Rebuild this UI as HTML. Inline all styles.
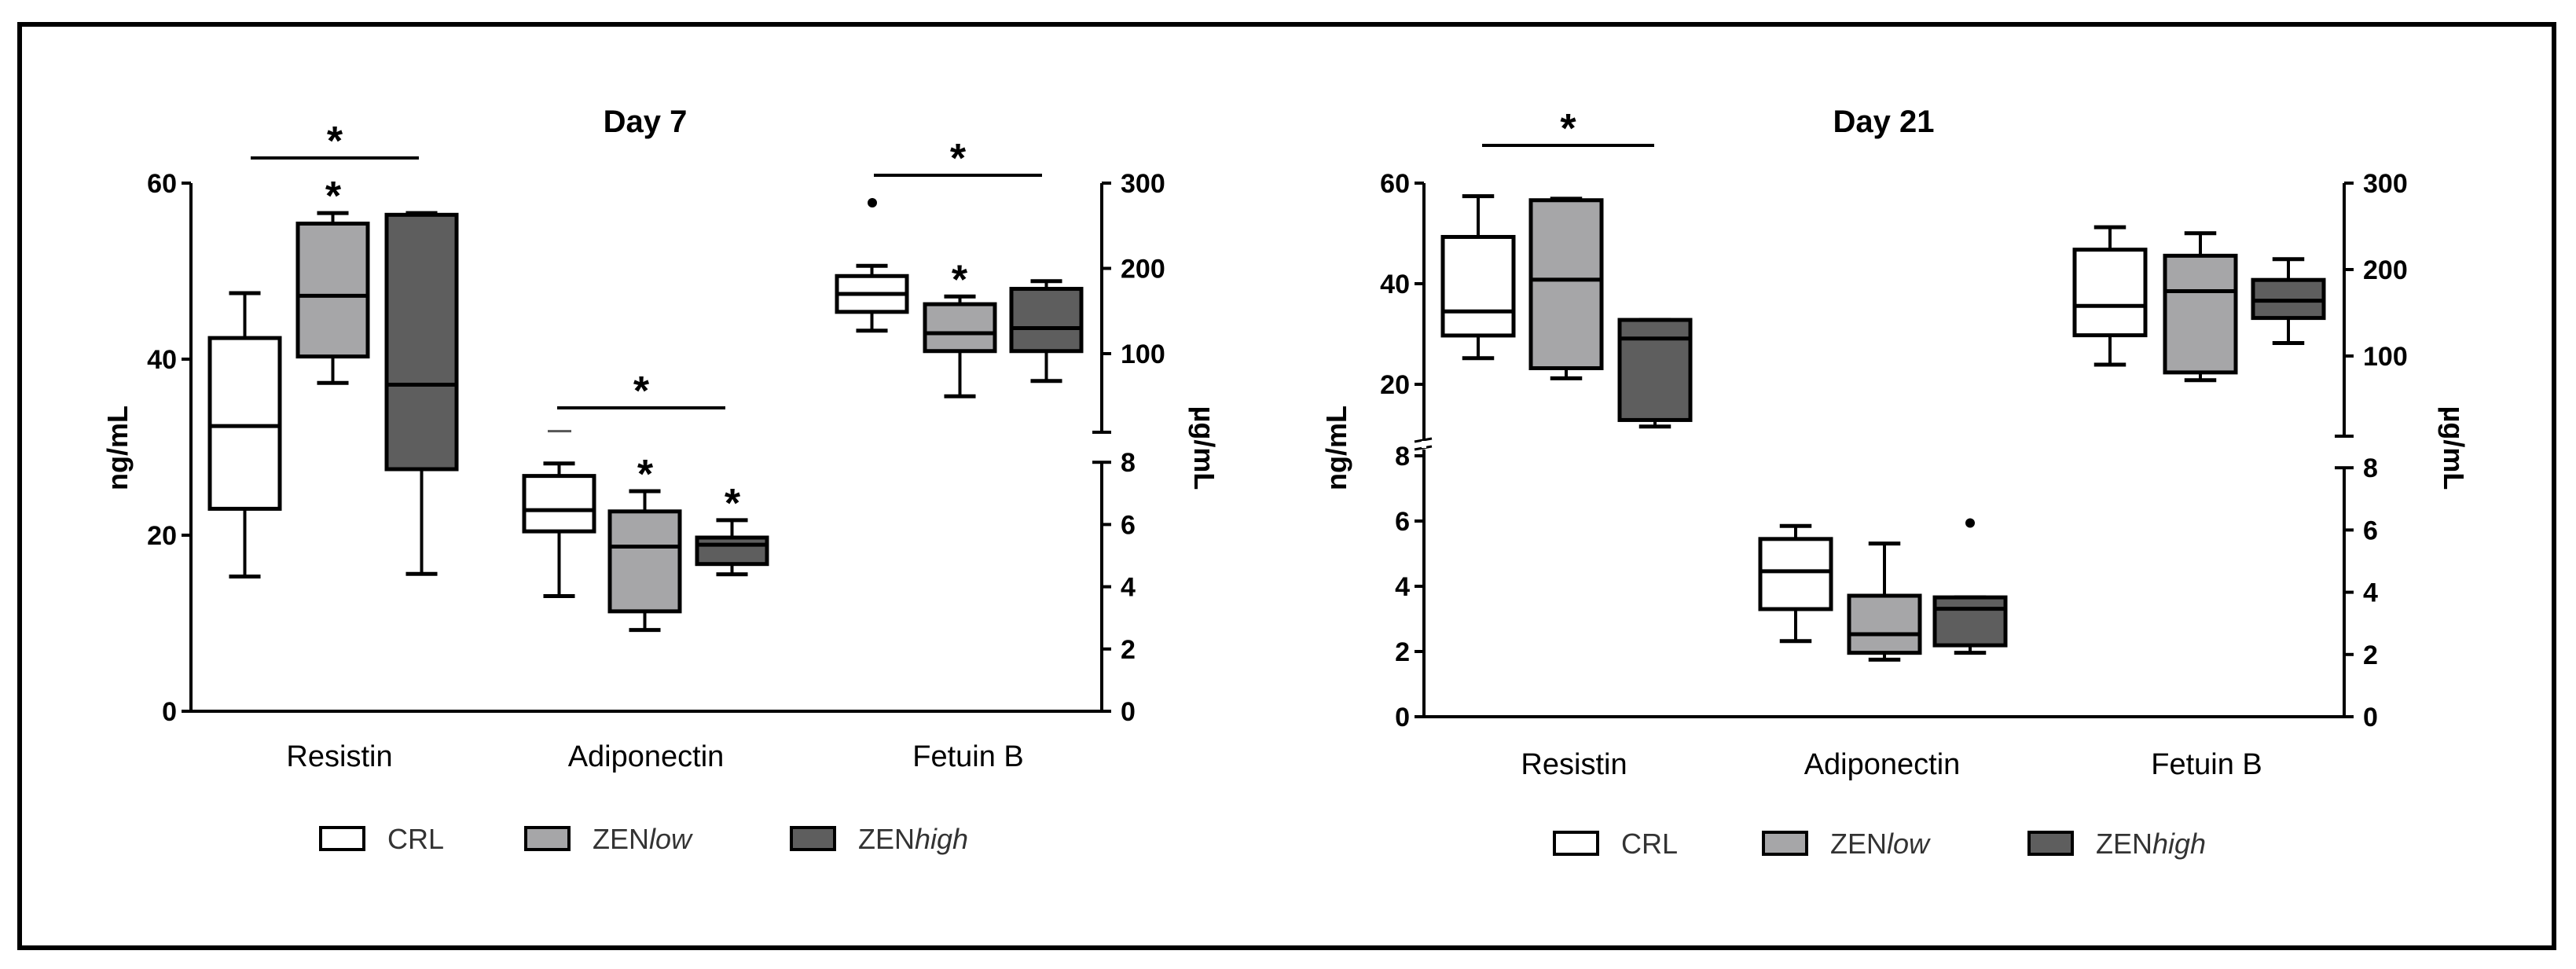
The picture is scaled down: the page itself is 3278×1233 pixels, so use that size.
<!DOCTYPE html>
<html><head><meta charset="utf-8"><style>
html,body{margin:0;padding:0;background:#fff}
svg{display:block}
text{font-family:"Liberation Sans",Arial,sans-serif}
</style></head><body>
<svg id="chart" width="3278" height="1233" viewBox="0 0 3278 1233">
<rect x="25" y="31" width="3225" height="1175" fill="#fff" stroke="#000" stroke-width="6"/>
<g id="root"></g>
</svg>
<script>
// ---------- data (Day 7) ----------
const groups = ["CRL", "ZENlow", "ZENhigh"];
const categories = ["Resistin", "Adiponectin", "Fetuin B"];
// each box: [min, q1, median, q3, max]
const d7Resistin = [[15.3,23.0,32.4,42.4,47.5],[37.3,40.3,47.2,55.4,56.6],[15.6,27.5,37.1,56.4,56.6]];
const d7Adipo = [[3.7,5.78,6.46,7.56,7.96],[2.61,3.21,5.29,6.42,7.07],[4.40,4.73,5.35,5.58,6.14]];
const d7Fetuin = [[127,149,170,191,203],[50,103,124,158,167],[68,103,130,176,185]];
const d7Outliers = [[2,0,277]];
const d7AdipoMark = [9.0];
// ---------- data (Day 21) ----------
const d21Resistin = [[25.2,29.7,34.5,49.3,57.4],[21.2,23.2,40.8,56.6,56.9],[11.6,12.9,29.1,32.8,32.8]];
const d21Adipo = [[2.32,3.30,4.46,5.45,5.85],[1.75,1.96,2.53,3.71,5.31],[1.96,2.19,3.31,3.66,3.66]];
const d21Fetuin = [[90,124,158,223,249],[72,81,175,216,242],[115,144,164,188,212]];
const d21Outliers = [[1,2,5.94]];
// tick labels
const leftTicks7 = [0,20,40,60];
const leftTicks21Up = [20,40,60];
const leftTicks21Low = [0,2,4,6,8];
const rightTicksUp = [100,200,300];
const rightTicksLow = [0,2,4,6,8];

const fills = ["#ffffff","#a6a6a8","#5e5e5e"];
const NS = "http://www.w3.org/2000/svg";
const root = document.getElementById("root");
function el(tag, attrs, parent){const e=document.createElementNS(NS,tag);for(const k in attrs)e.setAttribute(k,attrs[k]);(parent||root).appendChild(e);return e;}
function line(x1,y1,x2,y2,w,p){return el("line",{x1,y1,x2,y2,stroke:"#000","stroke-width":w||4},p);}
function txt(x,y,s,size,anchor,weight,p){const t=el("text",{x,y,"font-size":size,"text-anchor":anchor||"middle","font-weight":weight||"normal",fill:"#000"},p);t.textContent=s;return t;}

// scales
const d7L = v=>905 - v*11.2;
const d7RU = v=>233 + (300-v)*1.085;
const d7RL = v=>905 - v*39.6;
const d21LU = v=>233 + (60-v)*6.4;
const d21LL = v=>912 - v*41.5;
const d21RU = v=>233 + (300-v)*1.1;
const d21RL = v=>912 - v*39.6;

function box(g, x, w, d, sc, fill, name){
  const bg=el("g",{},g);
  
  
  const cx=x+w/2, cw=w*0.45;
  line(cx,sc(d[4]),cx,sc(d[3]),4,bg);
  line(cx,sc(d[1]),cx,sc(d[0]),4,bg);
  line(cx-cw/2,sc(d[4]),cx+cw/2,sc(d[4]),5,bg);
  line(cx-cw/2,sc(d[0]),cx+cw/2,sc(d[0]),5,bg);
  el("rect",{x:x,y:sc(d[3]),width:w,height:Math.max(2,sc(d[1])-sc(d[3])),fill:fill,stroke:"#000","stroke-width":5},bg);
  line(x,sc(d[2]),x+w,sc(d[2]),5,bg);
}
function star(x,y,p){const t=txt(x,y,"*",52,"middle","bold",p);}
function sigBar(x1,x2,y,p){const l=line(x1,y,x2,y,4,p);star((x1+x2)/2,y-4,p);}

function panel(cfg){
  const g=el("g",{});
  
  
  const t=txt(cfg.titleX,168,cfg.title,40,"middle","bold",g);
  
  const xa=line(cfg.lx-2,cfg.y0,cfg.rx+2,cfg.y0,4,g);
  
  cfg.leftSegs.forEach(s=>{
    const a=line(cfg.lx,s.top,cfg.lx,s.bot,4,g);
    
    s.ticks.forEach(v=>{const y=s.sc(v);line(cfg.lx-12,y,cfg.lx,y,4,g);
      const tl=txt(cfg.lx-18,y+12,String(v),34,"end","bold",g);
      });
  });
  if(cfg.breakY){line(cfg.lx-12,cfg.breakY-6,cfg.lx+10,cfg.breakY-10,3,g);line(cfg.lx-12,cfg.breakY+4,cfg.lx+10,cfg.breakY,3,g);
    el("rect",{x:cfg.lx-3,y:cfg.breakY-7,width:6,height:9,fill:"#fff"},g);}
  cfg.rightSegs.forEach(s=>{
    const a=line(cfg.rx,s.top,cfg.rx,s.bot,4,g);
    
    if(s.capBot) line(cfg.rx-12,s.bot,cfg.rx+12,s.bot,4,g);
    s.ticks.forEach(v=>{const y=s.sc(v);line(cfg.rx,y,cfg.rx+12,y,4,g);
      if(v===8&&s.capTop) line(cfg.rx-12,y,cfg.rx,y,4,g);
      const tl=txt(cfg.rx+24,y+12,String(v),34,"start","bold",g);
      });
  });
  const yl=txt(0,0,"ng/mL",36,"middle","bold",g);
  yl.setAttribute("transform",`translate(${cfg.ylx},${cfg.yly}) rotate(-90)`);
  
  const yr=txt(0,0,"µg/mL",36,"middle","bold",g);
  yr.setAttribute("transform",`translate(${cfg.yrx},${cfg.yly}) rotate(90)`);
  
  categories.forEach((c,i)=>{const ct=txt(cfg.catX[i],cfg.catY,c,38,"middle","normal",g);
    });
  const sets=[cfg.res,cfg.adi,cfg.fet];
  sets.forEach((set,ci)=>{set.data.forEach((d,gi)=>{box(g,set.xs[gi],set.w,d,set.sc,fills[gi],categories[ci].toLowerCase().replace(" ","-")+"-box-"+groups[gi].toLowerCase());});});
  groups.forEach((gname,i)=>{
    const lg=el("g",{},g);
    
    
    el("rect",{x:cfg.legX[i],y:cfg.legY-14,width:55,height:28,fill:fills[i],stroke:"#000","stroke-width":4},lg);
    const t=el("text",{x:cfg.legX[i]+85,y:cfg.legY+13,"font-size":36,fill:"#333"},lg);
    if(i===0){t.textContent="CRL";}
    else{const a=el("tspan",{},t);a.textContent="ZEN";const b=el("tspan",{"font-style":"italic"},t);b.textContent=i===1?"low":"high";}
  });
  return g;
}

// Day 7
const g7=panel({name:"day7-panel",title:"Day 7",titleX:821,lx:243,rx:1402,y0:905,
  leftSegs:[{top:233,bot:905,sc:d7L,ticks:leftTicks7}],
  rightSegs:[{top:233,bot:550,sc:d7RU,ticks:rightTicksUp,capBot:true},{top:588,bot:905,sc:d7RL,ticks:rightTicksLow,capTop:true}],
  ylx:162,yrx:1520,yly:570,catX:[432,822,1232],catY:975,
  res:{data:d7Resistin,xs:[267,379,492],w:89,sc:d7L},
  adi:{data:d7Adipo,xs:[667,776,887],w:89,sc:d7RL},
  fet:{data:d7Fetuin,xs:[1065,1177,1287],w:89,sc:d7RU},
  legX:[408,669,1007],legY:1067});
d7Outliers.forEach(o=>{const c=el("circle",{cx:1110,cy:d7RU(o[2]),r:6,fill:"#000"},g7);});
d7AdipoMark.forEach(v=>{line(697,d7RL(v),727,d7RL(v),3,g7).setAttribute("stroke","#555");});
sigBar(319,533,201,g7);sigBar(709,923,519,g7);sigBar(1112,1326,223,g7);
star(424,d7L(56.6)-4,g7);star(821,d7RL(7.07)-4,g7);star(932,d7RL(6.14)-4,g7);star(1221,d7RU(167)-4,g7);

// Day 21
const g21=panel({name:"day21-panel",title:"Day 21",titleX:2397,lx:1812,rx:2983,y0:912,
  leftSegs:[{top:233,bot:562,sc:d21LU,ticks:leftTicks21Up},{top:572,bot:912,sc:d21LL,ticks:leftTicks21Low}],
  rightSegs:[{top:233,bot:555,sc:d21RU,ticks:rightTicksUp,capBot:true},{top:595,bot:912,sc:d21RL,ticks:rightTicksLow,capTop:true}],
  breakY:568,ylx:1713,yrx:3110,yly:570,catX:[2003,2395,2808],catY:985,
  res:{data:d21Resistin,xs:[1836,1948,2061],w:90,sc:d21LU},
  adi:{data:d21Adipo,xs:[2240,2353,2462],w:90,sc:d21LL},
  fet:{data:d21Fetuin,xs:[2640,2755,2867],w:90,sc:d21RU},
  legX:[1978,2244,2582],legY:1073});
d21Outliers.forEach(o=>{const c=el("circle",{cx:2507,cy:d21LL(o[2]),r:6,fill:"#000"},g21);});
sigBar(1886,2105,185,g21);
</script>
</body></html>
